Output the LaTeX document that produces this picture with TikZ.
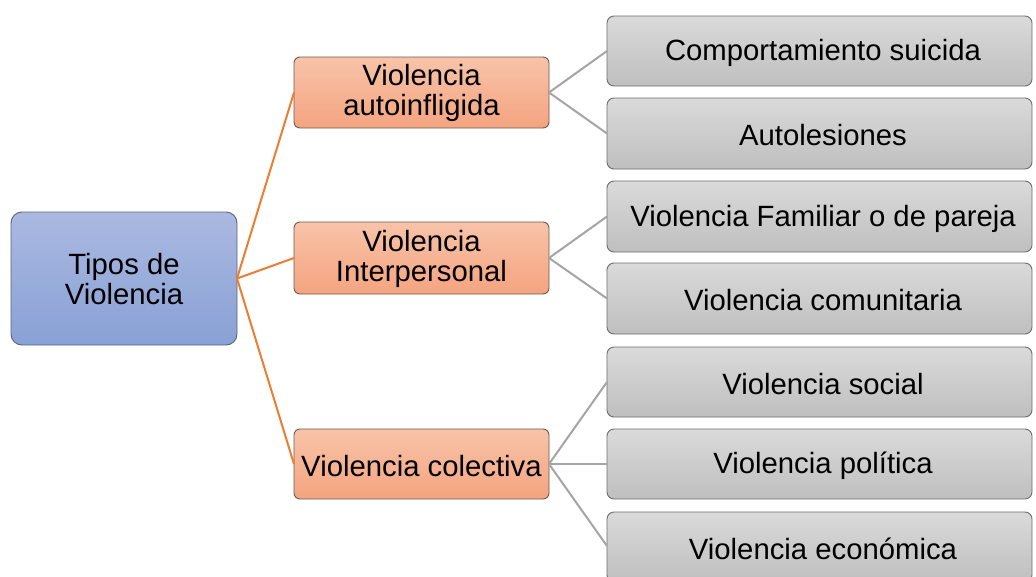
\documentclass[tikz,border=0pt]{standalone}
\usepackage{fontspec}
\setmainfont{Liberation Sans}
\begin{document}
\begin{tikzpicture}[x=1pt,y=-1pt,
  lbl/.style={font=\fontsize{29.3}{30}\selectfont, align=center, text=black, inner sep=0pt},
  rootbox/.style={draw=rootline, line width=0.9pt, rounded corners=11pt, top color=roottop, bottom color=rootbot},
  midbox/.style={draw=midline, line width=0.9pt, rounded corners=6pt, top color=midtop, bottom color=midbot},
  leafbox/.style={draw=leafline, line width=0.9pt, rounded corners=7pt, top color=leaftop, bottom color=leafbot},
  orangelink/.style={draw=olink, line width=2pt},
  greylink/.style={draw=glink, line width=2pt}]
\definecolor{roottop}{HTML}{AAB9E1}
\definecolor{rootbot}{HTML}{89A1D5}
\definecolor{rootline}{HTML}{5C6478}
\definecolor{midtop}{HTML}{F8C3A9}
\definecolor{midbot}{HTML}{F4A47F}
\definecolor{midline}{HTML}{6E5A50}
\definecolor{leaftop}{HTML}{DADADA}
\definecolor{leafbot}{HTML}{BFBFBF}
\definecolor{leafline}{HTML}{6E6E6E}
\definecolor{olink}{HTML}{ED7D31}
\definecolor{glink}{HTML}{A5A5A5}
\useasboundingbox (0,0) rectangle (1036,576);
\fill[white] (0,0) rectangle (1036,576);

% root
\path[rootbox] (11,212) rectangle (237,345);
\node[lbl] (root) at (124,279.5) {Tipos de\\Violencia};
\coordinate (rootR) at (237,278.5);

% mid boxes
\path[midbox] (294,57) rectangle (549,128);
\node[lbl] (m1) at (421.5,93) {Violencia\\autoinfligida};
\coordinate (m1L) at (294,92.5); \coordinate (m1R) at (549,92.5);
\path[midbox] (294,222) rectangle (549,294);
\node[lbl] (m2) at (421.5,258.5) {Violencia\\Interpersonal};
\coordinate (m2L) at (294,258); \coordinate (m2R) at (549,258);
\path[midbox] (294,429) rectangle (549,499);
\node[lbl] (m3) at (421.5,466) {Violencia colectiva};
\coordinate (m3L) at (294,464); \coordinate (m3R) at (549,464);

% leaf boxes
\foreach \n/\t/\b/\txt in {
  1/16/86/{Comportamiento suicida},
  2/98/169/{Autolesiones},
  3/181/252/{Violencia Familiar o de pareja},
  4/263/334/{Violencia comunitaria},
  5/347/417/{Violencia social},
  6/429/499/{Violencia política},
  7/512/582/{Violencia económica}}{
  \path[leafbox] (607,\t) rectangle (1032,\b);
  \node[lbl] (l\n) at (823,{(\t+\b)/2+2}) {\txt};
  \coordinate (l\n L) at (607,{(\t+\b)/2});
}
\coordinate (l7L) at (607,546);

% connectors
\foreach \m in {m1L,m2L,m3L} \draw[orangelink] (rootR) -- (\m);
\draw[greylink] (m1R) -- (l1L);
\draw[greylink] (m1R) -- (l2L);
\draw[greylink] (m2R) -- (l3L);
\draw[greylink] (m2R) -- (l4L);
\draw[greylink] (m3R) -- (l5L);
\draw[greylink] (m3R) -- (l6L);
\draw[greylink] (m3R) -- (l7L);
\end{tikzpicture}
\end{document}
